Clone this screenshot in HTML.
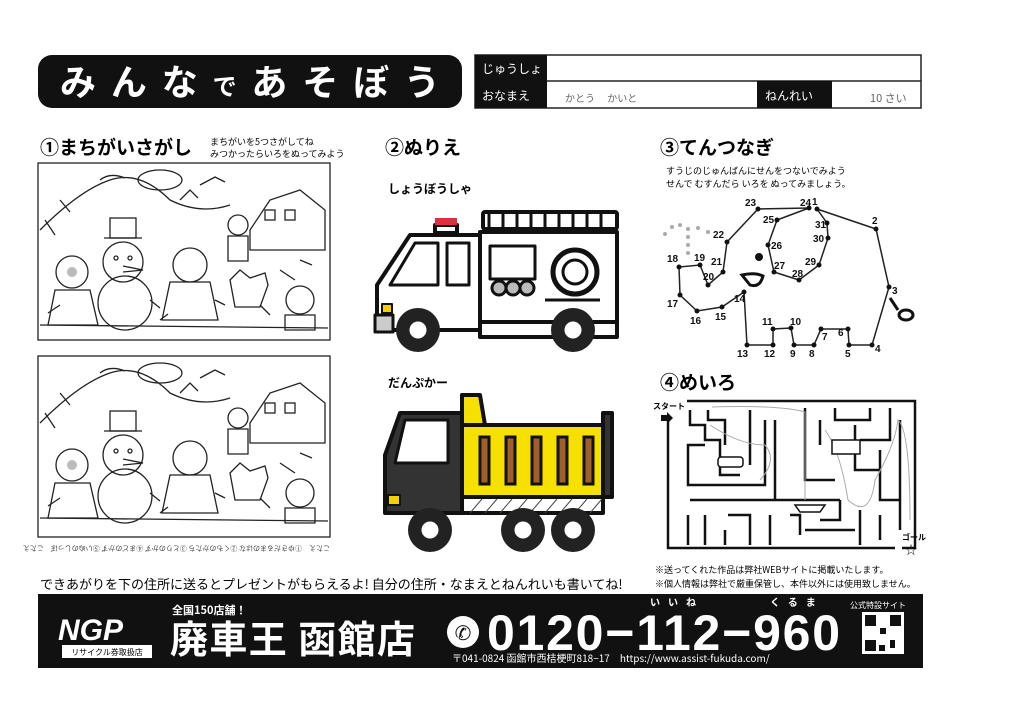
<!DOCTYPE html>
<html><head><meta charset="utf-8"><style>
html,body{margin:0;padding:0;background:#fff;}
svg{display:block;font-family:"Liberation Sans","Noto Sans CJK JP",sans-serif;}
</style></head><body>
<svg width="1024" height="724" viewBox="0 0 1024 724" xmlns="http://www.w3.org/2000/svg">
<rect width="1024" height="724" fill="#fff"/>
<!-- title -->
<rect x="38" y="55" width="424" height="53" rx="14" fill="#111"/>
<text x="60" y="95" textLength="380" fill="#fff" font-size="36" font-weight="bold" font-family="Noto Sans CJK JP,sans-serif">みんな<tspan font-size="24">で</tspan>あそぼう</text>
<!-- form -->
<rect x="475" y="55" width="446" height="53" fill="none" stroke="#222" stroke-width="1.5"/>
<line x1="475" y1="81" x2="921" y2="81" stroke="#222" stroke-width="1.5"/>
<rect x="475" y="55" width="72" height="26" fill="#111"/>
<rect x="475" y="81" width="72" height="27" fill="#111"/>
<rect x="757" y="81" width="75" height="27" fill="#111"/>
<text x="482" y="73" fill="#fff" font-size="12" font-family="Noto Sans CJK JP,sans-serif">じゅうしょ</text>
<text x="482" y="100" fill="#fff" font-size="12" font-family="Noto Sans CJK JP,sans-serif">おなまえ</text>
<text x="765" y="100" fill="#fff" font-size="12" font-family="Noto Sans CJK JP,sans-serif">ねんれい</text>
<text x="565" y="102" fill="#666" font-size="10" font-family="Noto Sans CJK JP,sans-serif">かとう　 かいと</text>
<text x="870" y="102" fill="#666" font-size="11" font-family="Noto Sans CJK JP,sans-serif">10 さい</text>
<!-- headings -->
<g font-family="Noto Sans CJK JP,sans-serif" font-weight="bold">
<text x="40" y="154" font-size="19">①まちがいさがし</text>
<text x="385" y="154" font-size="19">②ぬりえ</text>
<text x="660" y="154" font-size="19">③てんつなぎ</text>
<text x="660" y="389" font-size="19">④めいろ</text>
<text x="388" y="193" font-size="12">しょうぼうしゃ</text>
<text x="388" y="387" font-size="12">だんぷかー</text>
</g>
<g font-family="Noto Sans CJK JP,sans-serif" font-size="9">
<text x="210" y="145">まちがいを5つさがしてね</text>
<text x="210" y="157">みつかったらいろをぬってみよう</text>
<text x="666" y="174">すうじのじゅんばんにせんをつないでみよう</text>
<text x="666" y="187">せんで むすんだら いろを ぬってみましょう。</text>
</g>
<!-- spot difference pictures -->
<g stroke="#222" stroke-width="1.3" fill="none">
<rect x="38" y="163" width="292" height="177"/>
<rect x="38" y="356" width="292" height="181"/>
<g id="pic">
<path d="M40 230 Q80 190 110 180 Q140 170 170 200 Q200 215 230 205"/>
<path d="M100 180 Q110 172 125 178"/>
<ellipse cx="160" cy="180" rx="22" ry="10"/>
<path d="M200 185 l15 -8 l10 5 M180 200 l10 -10 l8 8"/>
<path d="M250 230 l20 -30 l30 -10 l25 20 v40 h-75z"/>
<rect x="265" y="210" width="10" height="10"/><rect x="285" y="210" width="10" height="10"/>
<rect x="110" y="218" width="26" height="20"/><line x1="104" y1="238" x2="142" y2="238"/>
<circle cx="123" cy="262" r="20"/><circle cx="125" cy="303" r="27"/>
<circle cx="116" cy="258" r="2"/><circle cx="130" cy="258" r="2"/>
<path d="M123 266 l20 4 l-20 2"/>
<circle cx="72" cy="272" r="16"/><path d="M55 290 l35 0 l8 35 h-50z"/>
<circle cx="190" cy="265" r="17"/><path d="M170 282 h40 l8 38 h-56z"/>
<circle cx="238" cy="225" r="10"/><path d="M228 236 h20 v25 h-20z"/>
<path d="M230 280 l10 -10 l10 8 l15 -5 l3 12 l-8 22 h-25z"/>
<circle cx="300" cy="300" r="14"/><path d="M285 315 h30 v15 h-30z"/>
<path d="M45 220 l10 15 M60 200 l10 12 M280 270 l15 10 M300 260 l12 5"/>
<path d="M150 300 l10 8 M160 320 l8 -6 M215 300 l10 5 M60 305 l-12 8 M260 305 l10 10"/>
<line x1="40" y1="325" x2="328" y2="328"/>
</g>
<use href="#pic" transform="translate(0,193)"/>
</g>
<g fill="#bbb"><circle cx="72" cy="272" r="5"/><circle cx="72" cy="465" r="5"/></g>
<text x="40" y="552" font-size="7" fill="#444" font-family="Noto Sans CJK JP,sans-serif" transform="rotate(180 185 549)">こたえ　①ゆきだるまのはな ②くものかたち ③とりのかず ④まどのかず ⑤いぬのしっぽ　こたえ</text>
<!-- fire truck -->
<g stroke="#111" stroke-width="4" fill="#fff" stroke-linejoin="round">
<rect x="483" y="212" width="134" height="17" rx="2"/>
<path d="M377 330 V285 L410 235 H480 V330 Z"/>
<rect x="480" y="232" width="137" height="92"/>
<rect x="480" y="322" width="137" height="15"/>
<rect x="435" y="225" width="22" height="8"/>
<path d="M390 285 L415 243 H438 V285 Z" stroke-width="3"/>
<rect x="447" y="243" width="22" height="42" stroke-width="3"/>
<rect x="490" y="246" width="45" height="33" stroke-width="3"/>
<circle cx="575" cy="272" r="22" stroke-width="5"/>
<circle cx="575" cy="272" r="12" stroke-width="3"/>
<path d="M545 300 H600" stroke-width="3"/>
<rect x="375" y="315" width="18" height="17" fill="#ccc" stroke-width="3"/>
<rect x="382" y="304" width="10" height="9" fill="#f5d000" stroke-width="2"/>
</g>
<rect x="435" y="218" width="22" height="7" fill="#e03040"/>
<g fill="#bbb" stroke="#111" stroke-width="3"><circle cx="499" cy="288" r="7"/><circle cx="513" cy="288" r="7"/><circle cx="527" cy="288" r="7"/></g>
<g stroke="#111" stroke-width="3" fill="none"><path d="M489 213 v15 M503 213 v15 M517 213 v15 M531 213 v15 M545 213 v15 M559 213 v15 M573 213 v15 M587 213 v15 M601 213 v15"/></g>
<g fill="#222"><circle cx="418" cy="330" r="22"/><circle cx="573" cy="330" r="22"/></g>
<g fill="#fff" stroke="#222" stroke-width="3"><circle cx="418" cy="330" r="10"/><circle cx="573" cy="330" r="10"/></g>
<!-- dump truck -->
<g stroke="#111" stroke-width="4" stroke-linejoin="round">
<path d="M462 425 V395 H480 L485 425 Z" fill="#f5e000"/>
<rect x="462" y="425" width="141" height="72" fill="#f5e000"/>
<rect x="603" y="413" width="9" height="84" fill="#333"/>
<rect x="462" y="497" width="141" height="16" fill="#fff"/>
<path d="M385 513 V455 L400 413 H462 V513 Z" fill="#333"/>
<path d="M395 463 L405 420 H448 V463 Z" fill="#fff" stroke-width="3"/>
<rect x="388" y="495" width="12" height="10" fill="#f5d000" stroke-width="2"/>
</g>
<g fill="#a0602a" stroke="#111" stroke-width="3"><rect x="480" y="437" width="9" height="47"/><rect x="506" y="437" width="9" height="47"/><rect x="532" y="437" width="9" height="47"/><rect x="558" y="437" width="9" height="47"/><rect x="584" y="437" width="9" height="47"/></g>
<path d="M470 513 l12 -14 M485 513 l12 -14 M500 513 l12 -14 M515 513 l12 -14 M530 513 l12 -14 M545 513 l12 -14 M560 513 l12 -14 M575 513 l12 -14 M590 513 l12 -14" stroke="#444" stroke-width="1"/>
<g fill="#222"><circle cx="430" cy="530" r="22"/><circle cx="523" cy="530" r="22"/><circle cx="573" cy="530" r="22"/></g>
<g fill="#fff" stroke="#222" stroke-width="3"><circle cx="430" cy="530" r="10"/><circle cx="523" cy="530" r="10"/><circle cx="573" cy="530" r="10"/></g>
<!-- dot to dot -->
<polyline fill="none" stroke="#222" stroke-width="1.5" points="817,209 876,229 889,287 872,345 849,345 848,329 821,329 814,345 794,345 791,328 773,329 773,345 747,345 744,292 722,307 697,311 680,295 679,267 700,265 708,285 723,272 727,242 758,209 809,208 777,220 768,245 774,272 799,280 819,265 828,238 827,223 817,209"/>
<g fill="#111">
<circle cx="817" cy="209" r="2.5"/><circle cx="876" cy="229" r="2.5"/><circle cx="889" cy="287" r="2.5"/><circle cx="872" cy="345" r="2.5"/><circle cx="849" cy="345" r="2.5"/><circle cx="848" cy="329" r="2.5"/><circle cx="821" cy="329" r="2.5"/><circle cx="814" cy="345" r="2.5"/><circle cx="794" cy="345" r="2.5"/><circle cx="791" cy="328" r="2.5"/><circle cx="773" cy="329" r="2.5"/><circle cx="773" cy="345" r="2.5"/><circle cx="747" cy="345" r="2.5"/><circle cx="744" cy="292" r="2.5"/><circle cx="722" cy="307" r="2.5"/><circle cx="697" cy="311" r="2.5"/><circle cx="680" cy="295" r="2.5"/><circle cx="679" cy="267" r="2.5"/><circle cx="700" cy="265" r="2.5"/><circle cx="708" cy="285" r="2.5"/><circle cx="723" cy="272" r="2.5"/><circle cx="727" cy="242" r="2.5"/><circle cx="758" cy="209" r="2.5"/><circle cx="809" cy="208" r="2.5"/><circle cx="777" cy="220" r="2.5"/><circle cx="768" cy="245" r="2.5"/><circle cx="774" cy="272" r="2.5"/><circle cx="799" cy="280" r="2.5"/><circle cx="819" cy="265" r="2.5"/><circle cx="828" cy="238" r="2.5"/><circle cx="827" cy="223" r="2.5"/>
<circle cx="759" cy="257" r="4"/>
</g>
<path d="M742 275 Q755 272 763 276 Q760 288 750 285 Z" fill="none" stroke="#111" stroke-width="3"/>
<path d="M890 298 l8 12" stroke="#111" stroke-width="3"/><ellipse cx="906" cy="315" rx="7" ry="5" fill="none" stroke="#111" stroke-width="3"/>
<g fill="#aaa"><circle cx="665" cy="234" r="2"/><circle cx="672" cy="227" r="2"/><circle cx="680" cy="225" r="2"/><circle cx="688" cy="229" r="2"/><circle cx="698" cy="228" r="2"/><circle cx="708" cy="232" r="2"/><circle cx="688" cy="237" r="2"/><circle cx="688" cy="245" r="2"/><circle cx="688" cy="253" r="2"/></g>
<g font-size="10" font-weight="bold" fill="#111">
<text x="812" y="205">1</text><text x="872" y="224">2</text><text x="892" y="294">3</text><text x="875" y="352">4</text><text x="845" y="357">5</text><text x="838" y="336">6</text><text x="822" y="340">7</text><text x="809" y="357">8</text><text x="790" y="357">9</text><text x="790" y="325">10</text><text x="762" y="325">11</text><text x="764" y="357">12</text><text x="737" y="357">13</text><text x="734" y="302">14</text><text x="715" y="320">15</text><text x="690" y="324">16</text><text x="667" y="307">17</text><text x="667" y="262">18</text><text x="694" y="261">19</text><text x="703" y="280">20</text><text x="711" y="265">21</text><text x="713" y="238">22</text><text x="745" y="206">23</text><text x="800" y="206">24</text><text x="763" y="223">25</text><text x="771" y="249">26</text><text x="774" y="269">27</text><text x="792" y="277">28</text><text x="805" y="265">29</text><text x="813" y="242">30</text><text x="815" y="228">31</text>
</g>
<!-- maze -->
<g stroke="#111" stroke-width="2.5" fill="none">
<path d="M687 401 H915 V548 H902 M668 420 V548 H895"/>
<path d="M690 410 V425 H705 V440 H720 V475 H740 M708 410 V420 H725 V445 M750 410 V465 M765 420 V485 H688 V445 H705 M775 420 V500 M690 500 H840 M805 408 V480 H835 M820 420 V445 M835 408 V420 H870 V408 M855 425 V470 H880 M890 408 V440 H860 M880 450 V500 H900 M840 500 V520 H820 M688 515 V545 M705 515 V545 M728 515 H750 V545 M725 530 V545 M770 515 V545 M790 515 H800 V535 M805 530 H855 M860 510 V545 M880 515 V540 M900 420 V530"/>
</g>
<path d="M710 425 Q740 445 765 445 Q778 460 760 480 M712 407 Q780 405 805 412 V500 M825 430 Q840 450 848 500 Q870 520 875 480 Q895 445 898 420 Q910 430 910 520" stroke="#aaa" stroke-width="1" fill="none"/>
<rect x="718" y="457" width="25" height="10" rx="3" fill="#fff" stroke="#111" stroke-width="1.5"/>
<rect x="832" y="440" width="28" height="14" fill="#fff" stroke="#111" stroke-width="1.5"/>
<path d="M795 505 H825 L820 512 H800 Z" fill="#fff" stroke="#111" stroke-width="1.5"/>
<text x="653" y="409" font-size="8" font-weight="bold" font-family="Noto Sans CJK JP,sans-serif">スタート</text>
<path d="M661 415 H667 V412 L673 418 L667 424 V421 H661 Z" fill="#111"/>
<text x="902" y="540" font-size="8" font-weight="bold" font-family="Noto Sans CJK JP,sans-serif">ゴール</text>
<text x="905" y="554" font-size="12">☆</text>
<!-- bottom text -->
<g font-family="Noto Sans CJK JP,sans-serif">
<text x="40" y="589" font-size="13">できあがりを下の住所に送るとプレゼントがもらえるよ! 自分の住所・なまえとねんれいも書いてね!</text>
<text x="655" y="573" font-size="9">※送ってくれた作品は弊社WEBサイトに掲載いたします。</text>
<text x="655" y="587" font-size="9">※個人情報は弊社で厳重保管し、本件以外には使用致しません。</text>
</g>
<!-- footer -->
<rect x="38" y="594" width="885" height="74" fill="#111"/>
<text x="58" y="640" fill="#fff" font-size="30" font-weight="bold" font-style="italic">NGP</text>
<rect x="62" y="645" width="90" height="13" fill="#fff"/>
<text x="107" y="655" text-anchor="middle" font-size="8" font-family="Noto Sans CJK JP,sans-serif">リサイクル券取扱店</text>
<g fill="#fff" font-family="Noto Sans CJK JP,sans-serif" font-weight="bold">
<text x="172" y="614" font-size="11">全国150店舗！</text>
<text x="170" y="653" font-size="38" textLength="245">廃車王 函館店</text>
<text x="650" y="606" font-size="10" letter-spacing="8">いいね</text>
<text x="770" y="606" font-size="10" letter-spacing="8">くるま</text>
<text x="850" y="608" font-size="8" font-weight="normal">公式特設サイト</text>
</g>
<circle cx="463" cy="632" r="16" fill="#fff"/>
<text x="463" y="640" text-anchor="middle" font-size="20" fill="#111">✆</text>
<text x="487" y="650" fill="#fff" font-size="50" font-weight="bold" textLength="353">0120−112−960</text>
<text x="452" y="662" fill="#fff" font-size="10" font-family="Noto Sans CJK JP,sans-serif">〒041-0824 函館市西桔梗町818−17　https://www.assist-fukuda.com/</text>
<rect x="862" y="612" width="42" height="42" fill="#fff"/>
<g fill="#111"><rect x="865" y="615" width="11" height="11"/><rect x="890" y="615" width="11" height="11"/><rect x="865" y="640" width="11" height="11"/><rect x="880" y="628" width="6" height="6"/><rect x="890" y="640" width="5" height="8"/><rect x="879" y="645" width="6" height="6"/></g>
</svg>
</body></html>
